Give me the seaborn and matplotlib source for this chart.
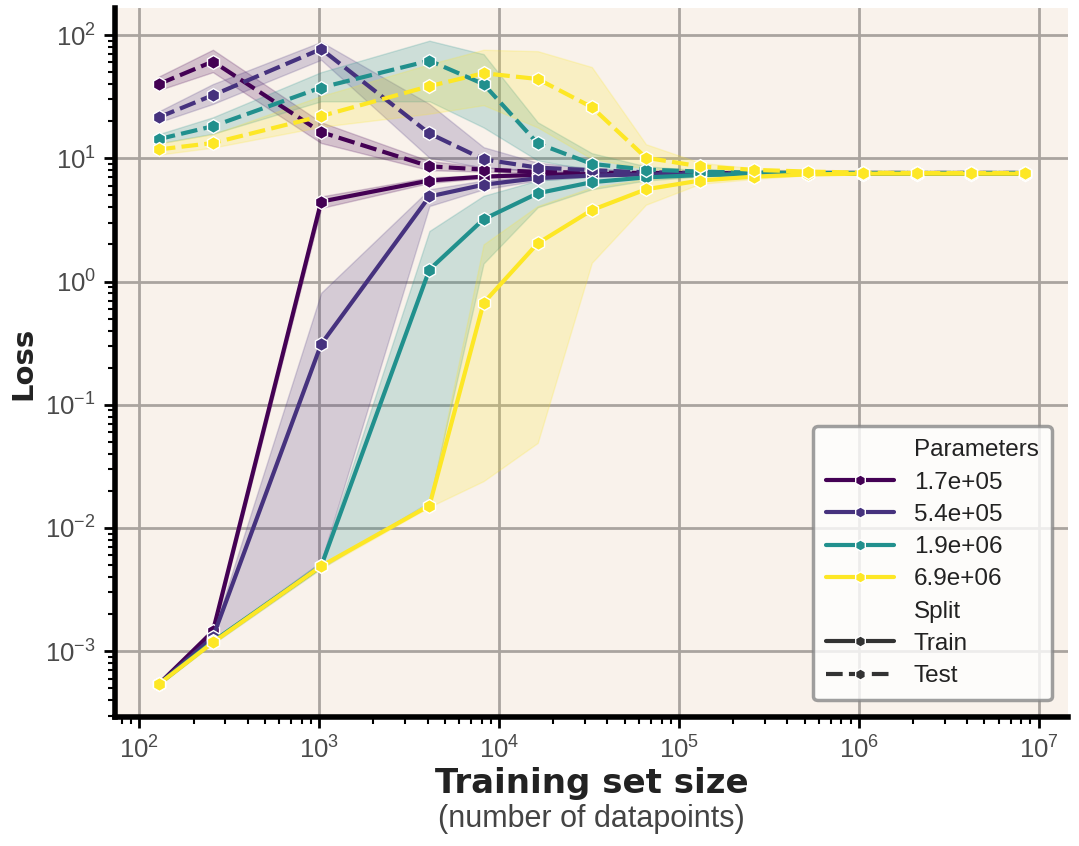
"""
Loss vs training set size for four model sizes (train and test split).
"""
import seaborn as sns
import pandas as pd
import matplotlib.pyplot as plt

# Training set sizes (number of datapoints).
sizes = [128, 256, 1024, 4096, 8192, 16384, 32768, 65536, 131072,
         262144, 524288, 1048576, 2097152, 4194304, 8388608]

params = ["1.7e+05", "5.4e+05", "1.9e+06", "6.9e+06"]
colors = ["#440154", "#46327e", "#21908d", "#fde725"]

# Loss per parameter count: median, lower and upper band.
train_170k = [5.4e-4, 1.45e-3, 4.45, 6.6, 7.1, 7.35, 7.45, 7.5, 7.5, 7.5, 7.5, 7.5, 7.5, 7.5, 7.5]
train_170k_lo = [5.3e-4, 1.35e-3, 3.95, 6.3, 6.9, 7.2, 7.35, 7.45, 7.45, 7.45, 7.45, 7.45, 7.45, 7.45, 7.45]
train_170k_hi = [5.5e-4, 1.55e-3, 4.9, 7.0, 7.3, 7.5, 7.55, 7.55, 7.55, 7.55, 7.55, 7.55, 7.55, 7.55, 7.55]
test_170k = [40, 61, 16.3, 8.6, 8.1, 7.75, 7.65, 7.6, 7.6, 7.6, 7.6, 7.6, 7.6, 7.6, 7.6]
test_170k_lo = [35.7, 50, 13.3, 8.0, 7.8, 7.6, 7.55, 7.55, 7.55, 7.55, 7.55, 7.55, 7.55, 7.55, 7.55]
test_170k_hi = [46, 76, 19.6, 9.5, 8.5, 7.9, 7.75, 7.65, 7.65, 7.65, 7.65, 7.65, 7.65, 7.65, 7.65]

train_540k = [5.4e-4, 1.3e-3, 0.31, 4.9, 6.1, 6.9, 7.25, 7.4, 7.5, 7.5, 7.5, 7.5, 7.5, 7.5, 7.5]
train_540k_lo = [5.3e-4, 1.2e-3, 5.3e-3, 4.1, 5.6, 6.6, 7.1, 7.35, 7.45, 7.45, 7.45, 7.45, 7.45, 7.45, 7.45]
train_540k_hi = [5.5e-4, 1.4e-3, 0.81, 5.6, 6.6, 7.2, 7.4, 7.5, 7.55, 7.55, 7.55, 7.55, 7.55, 7.55, 7.55]
test_540k = [21.5, 32.5, 77, 15.9, 9.8, 8.4, 8.0, 7.7, 7.6, 7.6, 7.6, 7.6, 7.6, 7.6, 7.6]
test_540k_lo = [19.6, 27.6, 63, 10.1, 8.4, 7.9, 7.7, 7.6, 7.55, 7.55, 7.55, 7.55, 7.55, 7.55, 7.55]
test_540k_hi = [24, 40, 88, 27.6, 12.3, 9.2, 8.3, 7.8, 7.65, 7.65, 7.65, 7.65, 7.65, 7.65, 7.65]

train_1900k = [5.4e-4, 1.2e-3, 4.9e-3, 1.25, 3.2, 5.2, 6.4, 7.0, 7.3, 7.45, 7.5, 7.5, 7.5, 7.5, 7.5]
train_1900k_lo = [5.3e-4, 1.15e-3, 4.7e-3, 0.0163, 1.4, 4.0, 5.6, 6.6, 7.1, 7.35, 7.45, 7.45, 7.45, 7.45, 7.45]
train_1900k_hi = [5.5e-4, 1.25e-3, 5.3e-3, 2.57, 4.96, 6.6, 7.1, 7.4, 7.5, 7.55, 7.55, 7.55, 7.55, 7.55, 7.55]
test_1900k = [14.3, 18.2, 37.5, 62, 40, 13.2, 9.0, 8.1, 7.8, 7.65, 7.6, 7.6, 7.6, 7.6, 7.6]
test_1900k_lo = [13.2, 15.8, 29, 29, 17.8, 9.6, 8.0, 7.7, 7.6, 7.55, 7.55, 7.55, 7.55, 7.55, 7.55]
test_1900k_hi = [15.7, 21.5, 50, 90, 70, 19.6, 11, 8.6, 8.0, 7.7, 7.65, 7.65, 7.65, 7.65, 7.65]

train_6900k = [5.4e-4, 1.18e-3, 4.9e-3, 0.0152, 0.67, 2.04, 3.8, 5.6, 6.6, 7.1, 7.4, 7.5, 7.5, 7.5, 7.5]
train_6900k_lo = [5.3e-4, 1.15e-3, 4.7e-3, 0.0148, 0.024, 0.049, 1.42, 4.2, 6.2, 6.8, 7.3, 7.45, 7.45, 7.45, 7.45]
train_6900k_hi = [5.5e-4, 1.22e-3, 5.1e-3, 0.0158, 2.0, 4.1, 5.8, 6.8, 7.2, 7.4, 7.5, 7.55, 7.55, 7.55, 7.55]
test_6900k = [11.8, 13.3, 22, 38.5, 49, 44, 26, 10.1, 8.6, 8.05, 7.8, 7.65, 7.6, 7.6, 7.6]
test_6900k_lo = [10.7, 12.2, 18, 23, 27, 17.8, 9.9, 8.2, 7.9, 7.8, 7.65, 7.6, 7.55, 7.55, 7.55]
test_6900k_hi = [13.2, 15.7, 32, 58, 76, 74, 55, 13, 9.2, 8.3, 7.9, 7.7, 7.65, 7.65, 7.65]


def build_frame():
    series = [
        ("1.7e+05", "Train", train_170k_lo, train_170k, train_170k_hi),
        ("1.7e+05", "Test", test_170k_lo, test_170k, test_170k_hi),
        ("5.4e+05", "Train", train_540k_lo, train_540k, train_540k_hi),
        ("5.4e+05", "Test", test_540k_lo, test_540k, test_540k_hi),
        ("1.9e+06", "Train", train_1900k_lo, train_1900k, train_1900k_hi),
        ("1.9e+06", "Test", test_1900k_lo, test_1900k, test_1900k_hi),
        ("6.9e+06", "Train", train_6900k_lo, train_6900k, train_6900k_hi),
        ("6.9e+06", "Test", test_6900k_lo, test_6900k, test_6900k_hi),
    ]
    rows = []
    for p, split, lo, mid, hi in series:
        for n, l, m, h in zip(sizes, lo, mid, hi):
            for v in (l, m, h):
                rows.append({"N": n, "Loss": v, "Parameters": p, "Split": split})
    return pd.DataFrame(rows)


df = build_frame()

sns.set_theme(style="whitegrid", rc={
    "axes.facecolor": "#f9f2eb",
    "grid.color": "#aaa49f",
    "grid.linewidth": 2.0,
    "axes.edgecolor": "black",
    "xtick.bottom": True,
    "ytick.left": True,
})
plt.rcParams["font.family"] = ["Liberation Sans", "DejaVu Sans"]

fig, ax = plt.subplots(figsize=(10.79, 8.46), dpi=100)
fig.subplots_adjust(left=0.107, right=0.99, bottom=0.152, top=0.99)

# Hexagon marker on every line, dashes only separate the split.
sns.lineplot(data=df, x="N", y="Loss", hue="Parameters", hue_order=params,
             palette=colors, style="Split", style_order=["Train", "Test"],
             marker="h", estimator="median", errorbar=("pi", 100),
             linewidth=3, markersize=10, markeredgecolor="white",
             markeredgewidth=1, ax=ax)

ax.set_xscale("log")
ax.set_yscale("log")

# Spines and ticks.
sns.despine(ax=ax)
for side in ["left", "bottom"]:
    ax.spines[side].set_linewidth(4)
    ax.spines[side].set_color("black")
ax.tick_params(axis="both", which="major", length=8, width=2, color="black",
               labelsize=18.5, labelcolor="#4a4a4a", pad=6)
ax.tick_params(axis="both", which="minor", length=5, width=1.5, color="black")
ax.grid(which="minor", visible=False)

ax.set_ylabel("Loss", fontsize=21, fontweight="bold", family="DejaVu Sans",
              color="#222222", labelpad=6)
ax.set_xlabel("Training set size", fontsize=24.5, fontweight="bold",
              family="DejaVu Sans", color="#222222", labelpad=2)
fig.text(0.548, 0.032, "(number of datapoints)", ha="center", va="center",
         fontsize=22, color="#444444")

leg = ax.legend(loc="lower right", bbox_to_anchor=(0.983, 0.024), fontsize=17.5,
                frameon=True, fancybox=True, handlelength=2.8,
                labelspacing=0.42, borderpad=0.55, borderaxespad=0)
frame = leg.get_frame()
frame.set_edgecolor("#888888")
frame.set_linewidth(2.5)
frame.set_facecolor("white")
for t in leg.get_texts():
    t.set_color("#222222")
for h in leg.legend_handles:
    h.set_markersize(8)

plt.savefig("out.png")
